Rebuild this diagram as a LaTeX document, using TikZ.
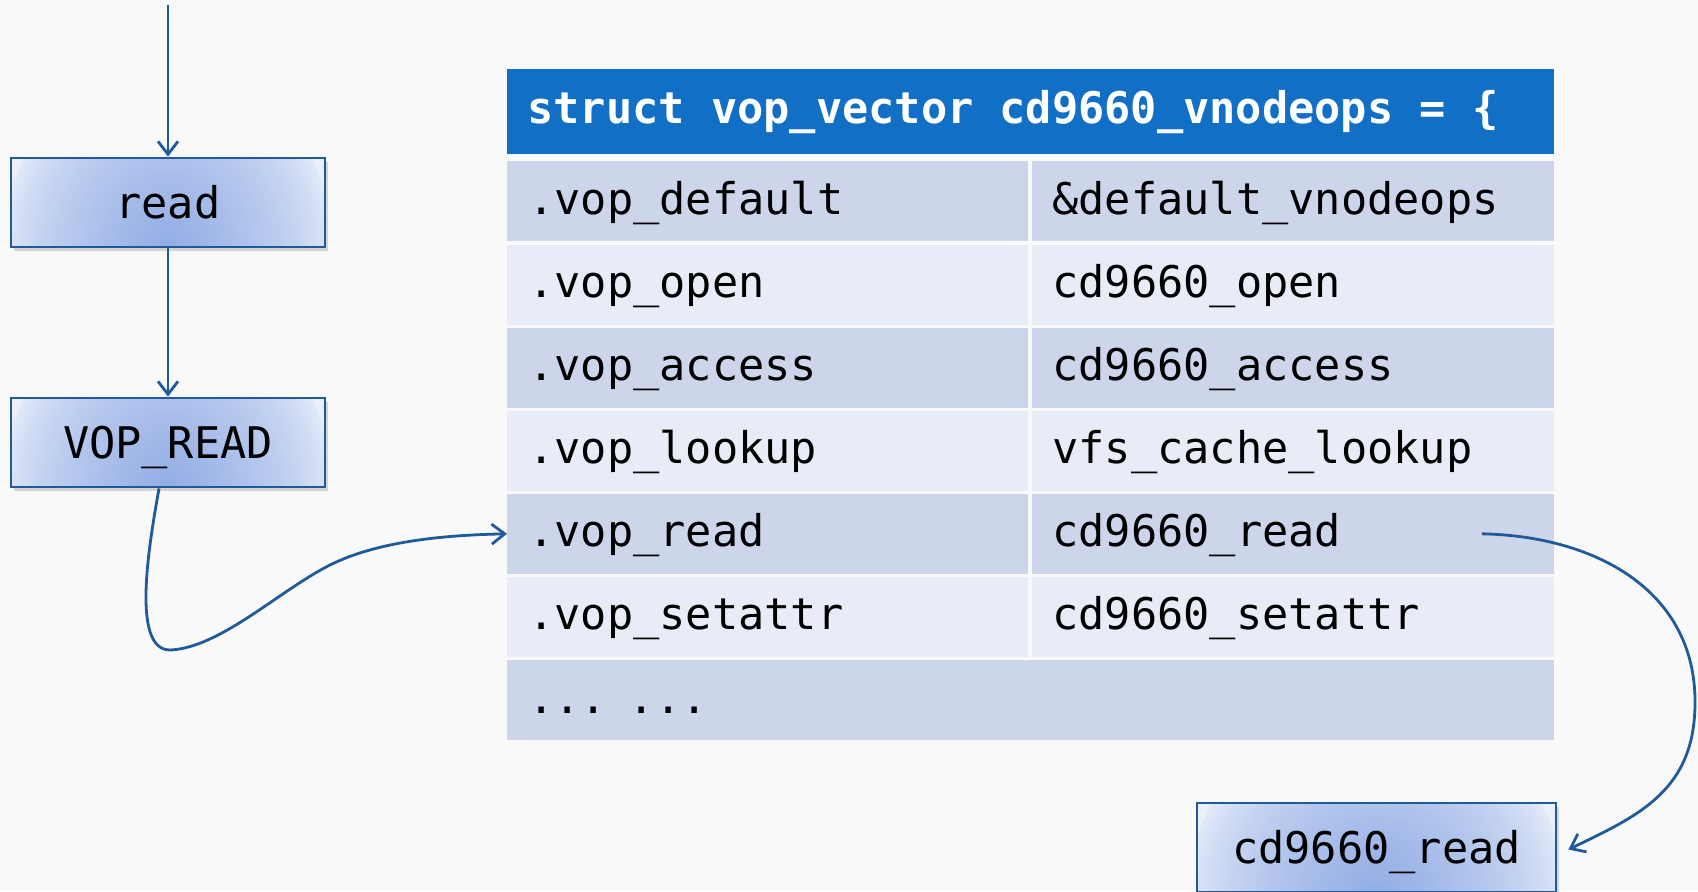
\documentclass[tikz,border=0pt]{standalone}
\usepackage{fontspec}
\setmonofont{DejaVu Sans Mono}
\newfontfamily\headmono{DejaVu Sans Mono Bold}
\usetikzlibrary{arrows.meta,shadows,calc}

\definecolor{pagebg}{HTML}{F9F9F9}
\definecolor{headblue}{HTML}{1170C6}
\definecolor{rowdark}{HTML}{CDD5EA}
\definecolor{rowlight}{HTML}{E8ECF6}
\definecolor{linkblue}{HTML}{1F5A9A}
\definecolor{glowA}{HTML}{94AEE5}
\definecolor{glowC}{HTML}{EAEFFA}

\tikzset{
  codefont/.style={font=\ttfamily\fontsize{21.8pt}{26pt}\selectfont},
  % call box: pale edges, glow that darkens towards the bottom centre
  callbox/.style={codefont, draw=linkblue, line width=1.4pt, fill=glowC,
    minimum width=157pt, minimum height=44.5pt, inner sep=0pt,
    text height=18pt, text depth=2pt,
    drop shadow={opacity=0.3, shadow xshift=1.5pt, shadow yshift=-2pt},
    path picture={
      \foreach \k in {0,...,39}{
        \pgfmathsetmacro{\pct}{100*(\k/39)^0.6}
        \fill[glowA!\pct!glowC] (path picture bounding box.south)
          ellipse [x radius={#1*(1-\k/40)}, y radius={95pt*(1-\k/40)}];
      }}},
  callbox/.default=84pt,
  % header row: bold mono with one full character cell per space
  headcell/.style={font=\headmono\fontsize{21.8pt}{26pt}\selectfont,
    execute at begin node={\spaceskip=13.1pt\relax},
    text=white, fill=headblue, anchor=north west, minimum width=523.5pt,
    minimum height=42.5pt, inner xsep=10pt, inner ysep=0pt, text width=503.5pt,
    align=left, text height=16pt, text depth=4pt},
  cellL/.style={codefont, fill=#1, anchor=north west, minimum width=260.5pt,
    minimum height=40pt, inner xsep=10.5pt, inner ysep=0pt, text width=239.5pt,
    align=left, text height=16.5pt, text depth=3.5pt},
  cellR/.style={codefont, fill=#1, anchor=north west, minimum width=261pt,
    minimum height=40pt, inner xsep=10pt, inner ysep=0pt, text width=241pt,
    align=left, text height=16.5pt, text depth=3.5pt},
  cellW/.style={codefont, fill=#1, anchor=north west, minimum width=523.5pt,
    minimum height=40pt, inner xsep=10.5pt, inner ysep=0pt, text width=502.5pt,
    align=left, text height=16.5pt, text depth=3.5pt},
  conn/.style={draw=linkblue, line width=1.4pt,
    -{Straight Barb[length=6.5pt, width=10pt, line width=1.4pt]}},
}

\begin{document}
\begin{tikzpicture}[x=0.5pt, y=-0.5pt]
  \useasboundingbox (0,0) rectangle (1698,891);
  \clip (0,0) rectangle (1698,891);
  \fill[pagebg] (0,0) rectangle (1698,891);

  % call chain on the left
  \coordinate (topin) at (168,5);
  \node[callbox] (read) at (168,202.5) {read};
  \node[callbox] (vopread) at (168,442.5) {VOP\_READ};
  \node[callbox=96pt, minimum width=179.5pt] (cdread) at (1376.5,847.5) {cd9660\_read};

  % the operations vector
  \node[headcell] (head) at (507,69) {struct vop\_vector cd9660\_vnodeops = \{};
  \foreach \i/\col/\ka/\kb in {
      0/rowdark/.vop\_default/\&default\_vnodeops,
      1/rowlight/.vop\_open/cd9660\_open,
      2/rowdark/.vop\_access/cd9660\_access,
      3/rowlight/.vop\_lookup/vfs\_cache\_lookup,
      4/rowdark/.vop\_read/cd9660\_read,
      5/rowlight/.vop\_setattr/cd9660\_setattr} {
    \node[cellL=\col] (r\i a) at (507,{161+83.1*\i}) {\ka};
    \node[cellR=\col] (r\i b) at (1032,{161+83.1*\i}) {\kb};
  }
  \node[cellW=rowdark] (r6) at (507,{161+83.1*6}) {... ...};

  % connectors
  \draw[conn] (topin) -- (read.north);
  \draw[conn] (read.south) -- (vopread.north);
  \draw[conn] ([xshift=-4.5pt]vopread.south)
      .. controls (150,540) and (130,650) .. (170,650)
      .. controls (220,648) and (280,590) .. (330,565)
      .. controls (380,540) and (450,535) .. (r4a.west);
  \coordinate (rdsrc) at ($(r4b.east)+(-73,0)$);
  \draw[conn] (rdsrc)
      .. controls (1595,536) and (1694,590) .. (1695,700)
      .. controls (1696,790) and (1640,815) .. ([xshift=5.5pt,yshift=-1pt]cdread.east);
\end{tikzpicture}
\end{document}
